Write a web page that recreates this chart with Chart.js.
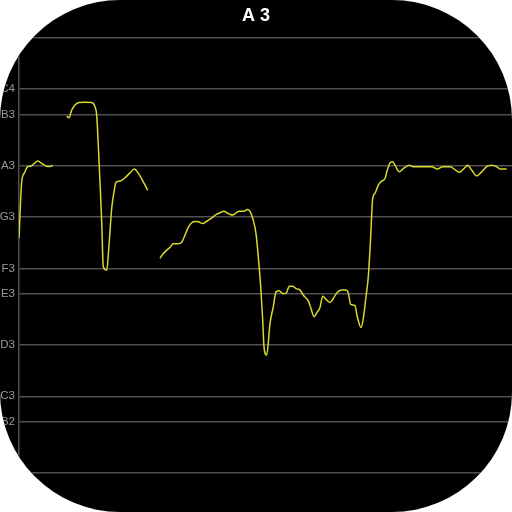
<!DOCTYPE html>
<html>
<head>
<meta charset="utf-8">
<script src="https://cdn.jsdelivr.net/npm/chart.js@4.4.0/dist/chart.umd.min.js"></script>
<style>
  html, body { margin: 0; padding: 0; background: #fff; }
  #frame {
    width: 512px; height: 512px;
    background: #000;
    border-radius: 120px;
    overflow: hidden;
  }
</style>
</head>
<body>
<div id="frame"><canvas id="pitchChart" width="512" height="512"></canvas></div>
<script>
// pitch track: time (frames) and pitch (midi note number), null = no pitch detected
const times = [
  0, 2.7, 5.3, 8.7, 12, 15.3, 18.7, 22.7, 27.7, 31, 33.7,
  40,
  47.7, 50, 52.7, 56, 60, 66, 72.7, 76, 77.7, 79.3, 81, 82.7, 84.3, 87.7, 90, 92.7, 95, 97, 101, 106, 111, 115.3, 119.3, 124.3, 128.7,
  135,
  141, 144.3, 147.7, 151, 154.3, 159.3, 162.7, 166, 169.3, 172.7,
  176, 179.3, 183.7, 187.7, 192.7, 197.7, 201, 205, 209.3, 213.7,
  217, 220.3, 225, 228.3, 231, 234.3, 237, 239.3, 241.7, 243.7,
  245, 247.7, 251, 254.3, 257, 260.3, 263.7, 267, 270.3, 273.7,
  277, 281, 284.3, 289.3, 292, 295, 297.7, 301, 303.7, 307,
  311, 314.3, 317.7, 322.7, 327, 329.3, 331.7, 336, 338.3, 342,
  344.3, 347, 349.3, 351.5, 353.7, 356, 359.3, 362.7, 366, 368.3,
  371, 373.7, 376, 380.3, 384.3, 390.3, 394.3, 401, 412.7, 418.3,
  423.7, 431, 436, 440.3, 445, 448.7, 452.7, 457.7, 462.7, 467.7,
  472.7, 477.7, 481, 487.7
];
const pitches = [
  54.18, 56.38, 56.72, 56.97, 57.0, 57.10, 57.19, 57.10, 56.99, 56.98, 57.03,
  null,
  58.95, 58.88, 59.18, 59.38, 59.48, 59.49, 59.48, 59.31, 58.98, 57.81, 56.38, 54.82, 53.06, 52.93, 53.91, 55.34, 55.99, 56.36, 56.41, 56.54, 56.73, 56.88, 56.71, 56.38, 56.05,
  null,
  53.39, 53.58, 53.71, 53.82, 53.96, 53.96, 54.02, 54.30, 54.60, 54.78,
  54.83, 54.82, 54.75, 54.84, 54.97, 55.12, 55.17, 55.23, 55.14, 55.08,
  55.17, 55.23, 55.23, 55.30, 55.23, 54.88, 54.36, 53.45, 52.28, 50.98,
  49.93, 49.61, 50.85, 51.50, 52.08, 52.12, 52.02, 52.02, 52.30, 52.30,
  52.21, 52.15, 51.95, 51.73, 51.43, 51.11, 51.26, 51.47, 51.91, 51.79,
  51.67, 51.82, 52.04, 52.15, 52.15, 52.04, 51.59, 51.54, 51.11, 50.69,
  51.04, 51.89, 52.67, 54.10, 55.73, 55.93, 56.25, 56.41, 56.51, 56.84,
  57.12, 57.16, 57.03, 56.77, 56.90, 57.03, 56.97, 56.97, 56.97, 56.88,
  56.97, 56.97, 56.86, 56.75, 56.90, 57.03, 56.84, 56.61, 56.77, 56.97,
  57.03, 56.97, 56.88, 56.88
];
// gridlines on the natural notes
const noteValues = [45, 47, 48, 50, 52, 53, 55, 57, 59, 60, 62];
const noteLabels = ["A2", "B2", "C3", "D3", "E3", "F3", "G3", "A3", "B3", "C4", "D4"];
const currentNote = "A 3";

const points = times.map((t, i) => ({ x: t, y: pitches[i] }));

new Chart(document.getElementById("pitchChart"), {
  type: "line",
  data: {
    datasets: [{
      data: points,
      borderColor: "#d8d82e",
      borderWidth: 1.5,
      pointRadius: 0,
      spanGaps: false,
      cubicInterpolationMode: "monotone",
    }]
  },
  options: {
    responsive: false,
    animation: false,
    layout: { padding: 0 },
    plugins: {
      legend: { display: false },
      tooltip: { enabled: false },
      title: {
        display: true,
        text: currentNote,
        color: "#ffffff",
        font: { family: "Liberation Sans", size: 18, weight: "bold", lineHeight: 1.2 },
        padding: { top: 5, bottom: 11.4 },
      },
    },
    scales: {
      x: {
        type: "linear",
        display: false,
        min: 0,
        max: 493,
      },
      y: {
        min: 43.48,
        max: 62,
        afterBuildTicks(scale) {
          scale.ticks = noteValues.map(v => ({ value: v }));
        },
        afterFit(scale) {
          scale.width = 19;
          scale.paddingTop = 0;
          scale.paddingBottom = 0;
        },
        ticks: {
          padding: 4,
          color: "#9a9a9a",
          font: { family: "Liberation Sans", size: 11.5 },
          callback(value) {
            const i = noteValues.indexOf(value);
            return i >= 0 ? noteLabels[i] : "";
          },
        },
        grid: {
          color: "#505050",
          lineWidth: 1.5,
          drawTicks: false,
        },
        border: { color: "#505050", width: 1.5 },
      },
    },
  },
});
</script>
</body>
</html>
